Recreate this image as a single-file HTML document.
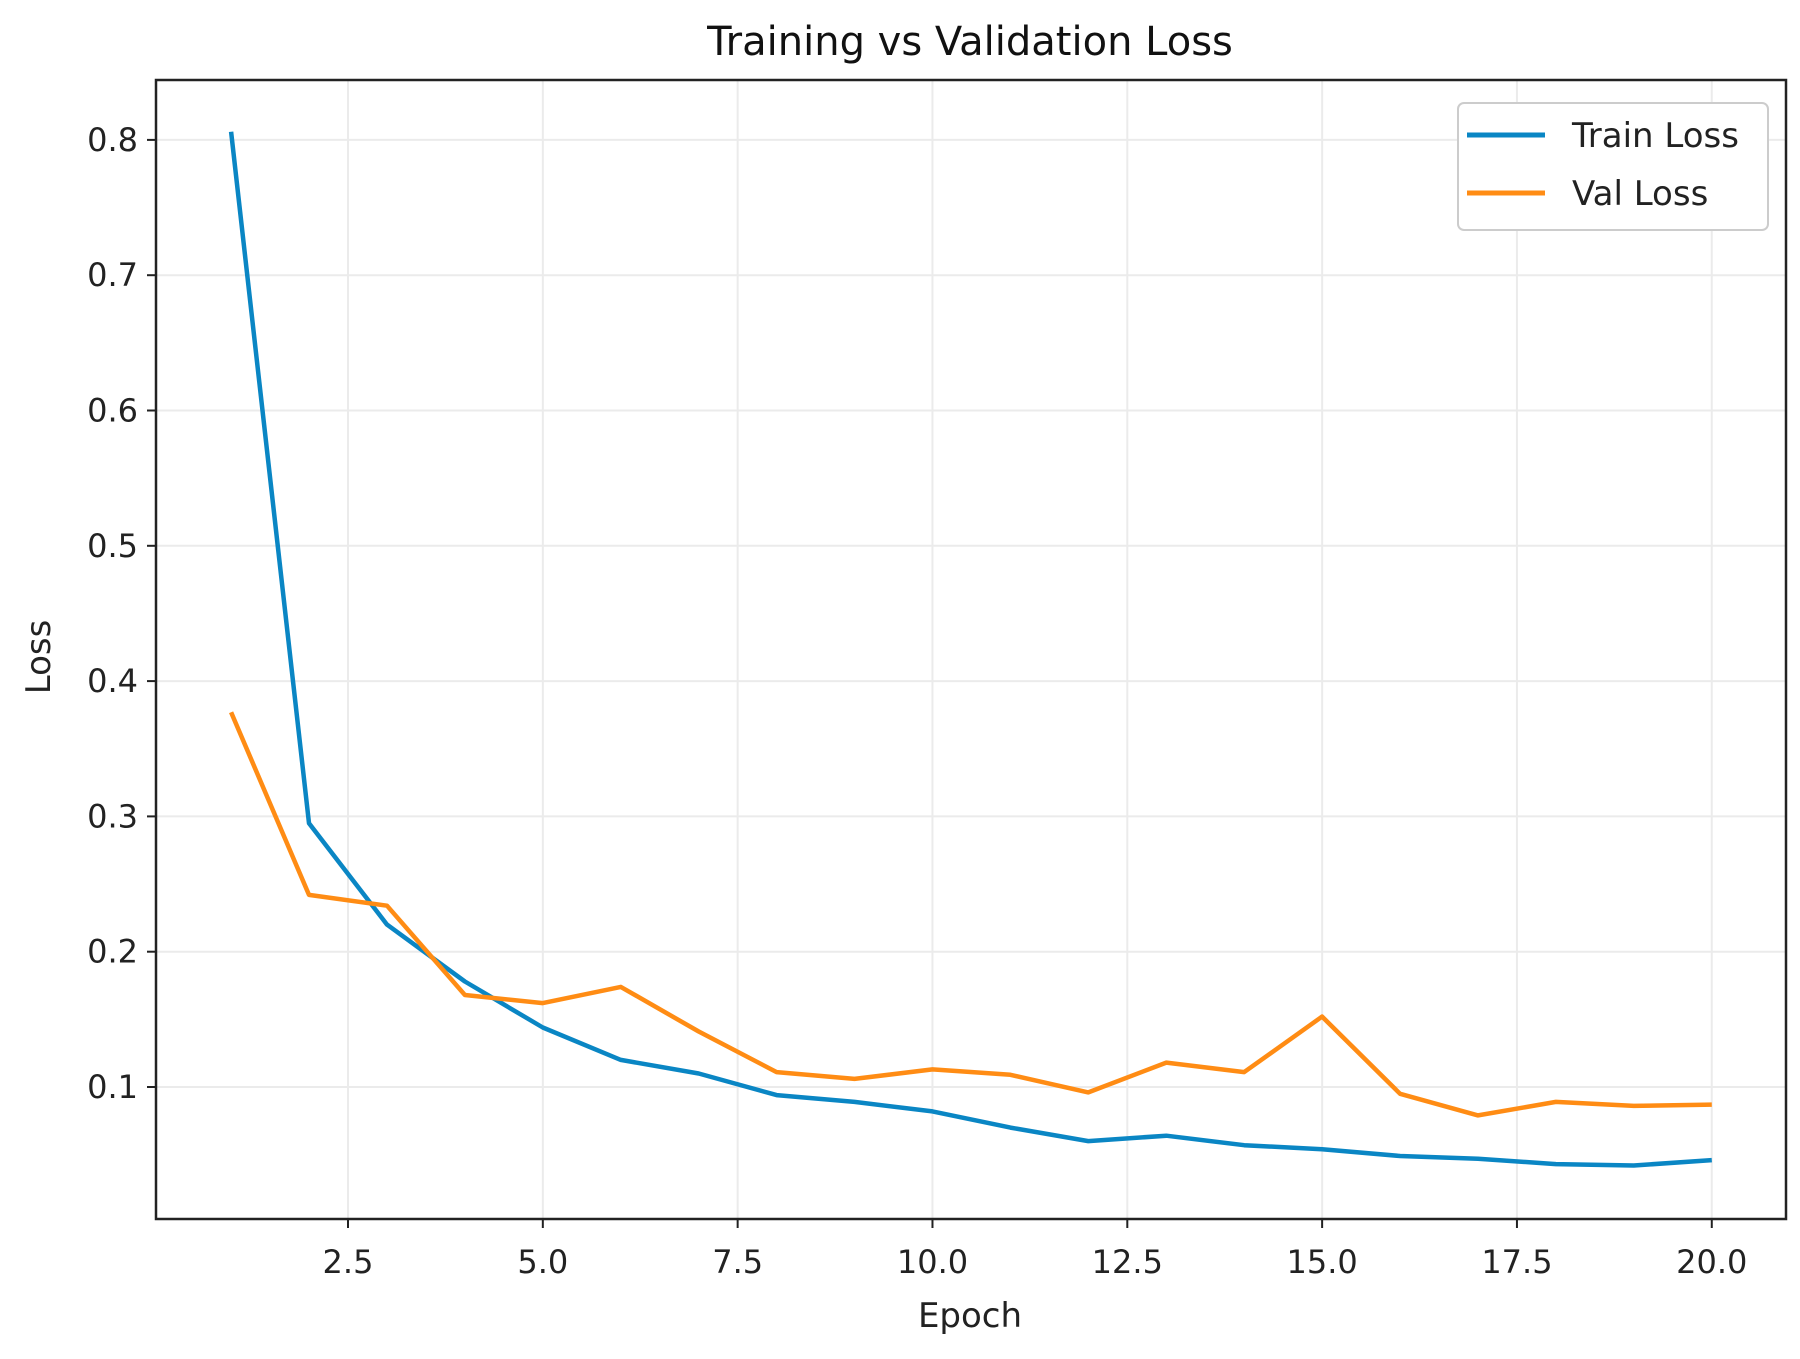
<!DOCTYPE html>
<html><head><meta charset="utf-8"><style>
body{margin:0;background:#fff}
svg{display:block;font-family:"DejaVu Sans","Liberation Sans",sans-serif}
</style></head><body>
<svg id="chart" width="1800" height="1359" viewBox="0 0 1800 1359">
<text x="970" y="55" font-size="40" text-anchor="middle" fill="#111">Training vs Validation Loss</text>
<g id="grid"></g>
<g id="series"></g>
<rect x="156" y="80" width="1630" height="1139" fill="none" stroke="#222" stroke-width="2.5"/>
<g id="ticks"></g>
<text x="970" y="1327" font-size="34" text-anchor="middle" fill="#222">Epoch</text>
<text transform="translate(50,657) rotate(-90)" font-size="34" text-anchor="middle" fill="#222">Loss</text>
<g>
<rect x="1458" y="103" width="310" height="127" rx="6" fill="#fff" stroke="#ccc" stroke-width="2"/>
<line x1="1467" y1="135" x2="1545" y2="135" stroke="#0a86c4" stroke-width="5"/>
<text x="1572" y="147" font-size="34" fill="#222">Train Loss</text>
<line x1="1467" y1="193" x2="1545" y2="193" stroke="#ff8c14" stroke-width="5"/>
<text x="1572" y="205" font-size="34" fill="#222">Val Loss</text>
</g>
</svg>
<script>
const epochs=[1,2,3,4,5,6,7,8,9,10,11,12,13,14,15,16,17,18,19,20];
const trainLoss=[0.806,0.295,0.22,0.178,0.144,0.12,0.11,0.094,0.089,0.082,0.07,0.06,0.064,0.057,0.054,0.049,0.047,0.043,0.042,0.046];
const valLoss=[0.377,0.242,0.234,0.168,0.162,0.174,0.141,0.111,0.106,0.113,0.109,0.096,0.118,0.111,0.152,0.095,0.079,0.089,0.086,0.087];
const xTicks=[2.5,5.0,7.5,10.0,12.5,15.0,17.5,20.0];
const yTicks=[0.1,0.2,0.3,0.4,0.5,0.6,0.7,0.8];
const NS="http://www.w3.org/2000/svg";
function xS(v){return 348+(v-2.5)*77.93;}
function yS(v){return 1087-(v-0.1)*1353;}
const grid=document.getElementById('grid'),ticks=document.getElementById('ticks'),series=document.getElementById('series');
function mk(tag,attrs,parent){const e=document.createElementNS(NS,tag);for(const k in attrs)e.setAttribute(k,attrs[k]);parent.appendChild(e);return e;}
xTicks.forEach(t=>{
 const g=mk('line',{x1:xS(t),x2:xS(t),y1:80,y2:1219,stroke:'#ebebeb','stroke-width':2},grid);
 
 
 const tk=mk('line',{x1:xS(t),x2:xS(t),y1:1219,y2:1228,stroke:'#222','stroke-width':2},ticks);
 
 
 const tx=mk('text',{x:xS(t),y:1273,'font-size':32,'text-anchor':'middle',fill:'#222'},ticks);
 tx.textContent=t.toFixed(1);
 
 
});
yTicks.forEach(t=>{
 const g=mk('line',{x1:156,x2:1786,y1:yS(t),y2:yS(t),stroke:'#ebebeb','stroke-width':2},grid);
 
 
 const tk=mk('line',{x1:147,x2:156,y1:yS(t),y2:yS(t),stroke:'#222','stroke-width':2},ticks);
 
 
 const tx=mk('text',{x:138,y:yS(t)+11,'font-size':32,'text-anchor':'end',fill:'#222'},ticks);
 tx.textContent=t.toFixed(1);
 
 
});
function line(vals,color,name){
 const pts=vals.map((v,i)=>xS(epochs[i]).toFixed(1)+','+yS(v).toFixed(1)).join(' ');
 const p=mk('polyline',{points:pts,fill:'none',stroke:color,'stroke-width':4.5,'stroke-linejoin':'round'},series);
 
 
}
line(trainLoss,'#0a86c4','train-loss-line');
line(valLoss,'#ff8c14','val-loss-line');
</script>
</body></html>
